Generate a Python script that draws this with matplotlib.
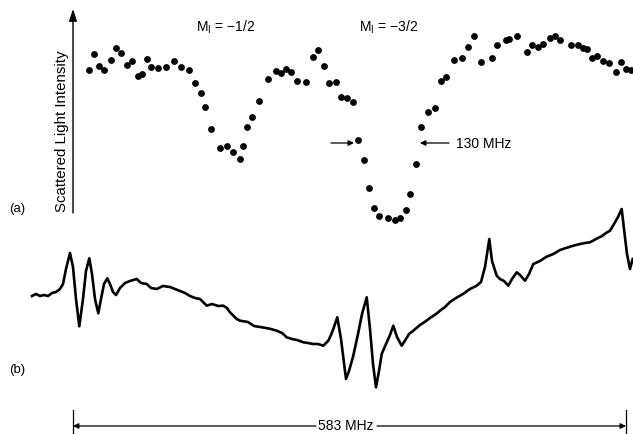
import matplotlib
matplotlib.use("Agg")
import matplotlib.pyplot as plt

plt.rcParams['font.family'] = ['Liberation Sans', 'DejaVu Sans']
plt.rcParams['mathtext.fontset'] = 'custom'
plt.rcParams['mathtext.rm'] = 'Liberation Sans'
plt.rcParams['mathtext.it'] = 'Liberation Sans'

# (a) scattered light intensity points (horizontal position, intensity; screen units, y downward)
dots_x = [89.3, 94, 98.7, 103.7, 111, 116, 121, 127, 132.3, 137.7, 142, 147.3, 151, 157.7,
          166, 173.7, 180.7, 188.7, 194.7, 200.7, 205, 210.7, 220, 226.7, 232.7, 240, 243.3,
          247, 252.3, 259.3, 268, 276, 281, 286, 291.3, 297.3, 305.5, 312.5, 318.3, 324.3,
          329.3, 335.7, 340.5, 347.3, 353.3, 358.3, 364, 369.3, 374, 379.3, 388, 395, 399.7,
          406, 410, 415.7, 421, 428, 434.7, 440.7, 446.3, 453.7, 462, 468.3, 473.7, 481,
          492.3, 497, 505.7, 509.3, 517.3, 527.3, 532.3, 537.7, 543.3, 550, 555, 560, 570.7,
          578, 582.7, 587.3, 592.3, 596.7, 603.3, 609.3, 615.7, 621, 625.7, 631]
dots_y = [70.7, 55, 66.7, 71, 60.7, 49, 54.3, 66.3, 62.3, 77.3, 74.7, 60, 68, 68.7,
          67.7, 62, 68, 71.3, 83.7, 94.3, 107.7, 130.3, 149, 147.3, 153.3, 160, 147.3,
          127.7, 118, 101.7, 80.3, 72, 73.7, 70.3, 73.3, 82.3, 82.7, 57.5, 50.7, 66.8,
          84.3, 83.3, 97.7, 99.3, 103.3, 141.3, 160.7, 188.7, 209, 216.7, 218.7, 220.7, 219,
          210.7, 195.3, 165.3, 128.3, 112.7, 108.7, 82, 78, 61, 59, 47.7, 37, 63.3,
          58.7, 46.3, 40.7, 39.7, 36.7, 52.7, 45.7, 48.3, 45, 39, 36.7, 40.7, 45.7,
          45.7, 48.7, 50.3, 58.7, 57.3, 61.7, 64.3, 73.3, 63.3, 70, 70.7]

# (b) trace
trace_x = [32, 36, 40, 44, 48, 52, 56, 60, 63, 66, 70, 73, 76, 79.3, 83, 86, 89.3, 92, 95,
           98.3, 101, 104, 107.3, 110, 113, 116, 120, 125, 130, 136.7, 141, 146.7, 151, 156.7,
           163, 170, 175, 180, 185, 190, 195, 200, 203, 206.7, 212, 218, 223.3, 227, 230,
           236.7, 240, 248, 254, 260, 266, 271, 276.7, 282, 286.7, 292, 297, 303.3, 308, 313,
           318, 323.3, 326, 328.3, 331, 333.3, 337.3, 341, 346, 349, 353.3, 358, 362, 366.7,
           370, 373, 376, 379, 381.7, 386, 390, 393.3, 397, 401.7, 406, 409, 413.3, 420, 426,
           430, 436, 440, 445, 450, 456, 463, 470, 476.7, 481, 485, 489.3, 492, 496.7, 500,
           504, 508.3, 512, 516.7, 520, 525, 529, 533.3, 540, 546, 553.3, 560, 566, 573.3,
           580, 585, 590, 596, 602, 606, 610, 614, 618, 621.7, 624, 627, 630, 632.7]
trace_y = [297, 295, 297, 296, 297, 294, 293, 290, 285, 270, 254, 268, 300, 327.3, 300, 272,
           259.3, 275, 300, 314.3, 300, 285, 279.3, 285, 293, 296, 289, 284, 282, 280, 284, 285,
           289, 290, 287, 288, 290, 292, 294, 297, 299, 300, 303, 306.7, 305, 307, 306.7, 309,
           313.3, 320, 321.7, 323, 327, 328, 329, 330, 331.7, 334, 338.3, 340, 341, 343.3, 344,
           345, 345, 346.7, 344, 341.7, 336, 330, 318.3, 340, 380, 372, 356.7, 335, 315, 298.3,
           330, 365, 388.3, 372, 355, 345, 336, 326.7, 338, 346.7, 340, 335, 331.7, 326, 322,
           319, 315, 311.7, 308, 303, 299, 295, 290, 286.7, 283, 268, 240, 262, 276.7, 280,
           282, 286.7, 280, 273.3, 276, 281.7, 275, 265, 262, 258, 255, 251, 249, 246.7, 245,
           244, 243.3, 240, 237, 234, 231.7, 225, 218, 210, 230, 255, 270, 260]

labels = ["M$_{\\mathregular{I}}$ = \u22121/2", "M$_{\\mathregular{I}}$ = \u22123/2"]
label_x = [226, 389]
width_label = "130 MHz"
span_label = "583 MHz"
ylabel = "Scattered Light Intensity"

fig = plt.figure(figsize=(6.33, 4.35), dpi=100)
ax = fig.add_axes([0, 0, 1, 1])
ax.set_xlim(0, 633)
ax.set_ylim(435, 0)
ax.axis('off')

# intensity axis arrow
ax.annotate('', xy=(73, 10), xytext=(73, 214),
            arrowprops=dict(arrowstyle='-|>,head_length=0.6,head_width=0.2', color='black',
                            lw=1.0, mutation_scale=12, shrinkA=0, shrinkB=0))
ax.text(62, 131, ylabel, rotation=90, ha='center', va='center', fontsize=10.8)

ax.plot(dots_x, dots_y, 'o', color='black', markersize=4.9, markeredgewidth=0)

for lx, lab in zip(label_x, labels):
    ax.text(lx, 27, lab, ha='center', va='center', fontsize=10)

# width arrows
ax.annotate('', xy=(354, 144), xytext=(331, 144),
            arrowprops=dict(arrowstyle='-|>', color='black', lw=0.9, mutation_scale=8,
                            shrinkA=0, shrinkB=0))
ax.annotate('', xy=(420, 144), xytext=(449, 144),
            arrowprops=dict(arrowstyle='-|>', color='black', lw=0.9, mutation_scale=8,
                            shrinkA=0, shrinkB=0))
ax.text(456, 144, width_label, ha='left', va='center', fontsize=10)

ax.text(9, 209, "(a)", ha='left', va='center', fontsize=9.5)
ax.text(9, 370, "(b)", ha='left', va='center', fontsize=9.5)

ax.plot(trace_x, trace_y, color='black', lw=1.9, solid_joinstyle='round')

# span bar
ax.plot([73, 73], [411, 435], color='black', lw=0.9)
ax.plot([626, 626], [411, 435], color='black', lw=0.9)
ax.annotate('', xy=(73, 427), xytext=(316, 427),
            arrowprops=dict(arrowstyle='-|>', color='black', lw=0.9, mutation_scale=8,
                            shrinkA=0, shrinkB=0))
ax.annotate('', xy=(626, 427), xytext=(377, 427),
            arrowprops=dict(arrowstyle='-|>', color='black', lw=0.9, mutation_scale=8,
                            shrinkA=0, shrinkB=0))
ax.text(346, 426, span_label, ha='center', va='center', fontsize=10)

fig.savefig('out.png', dpi=100)
